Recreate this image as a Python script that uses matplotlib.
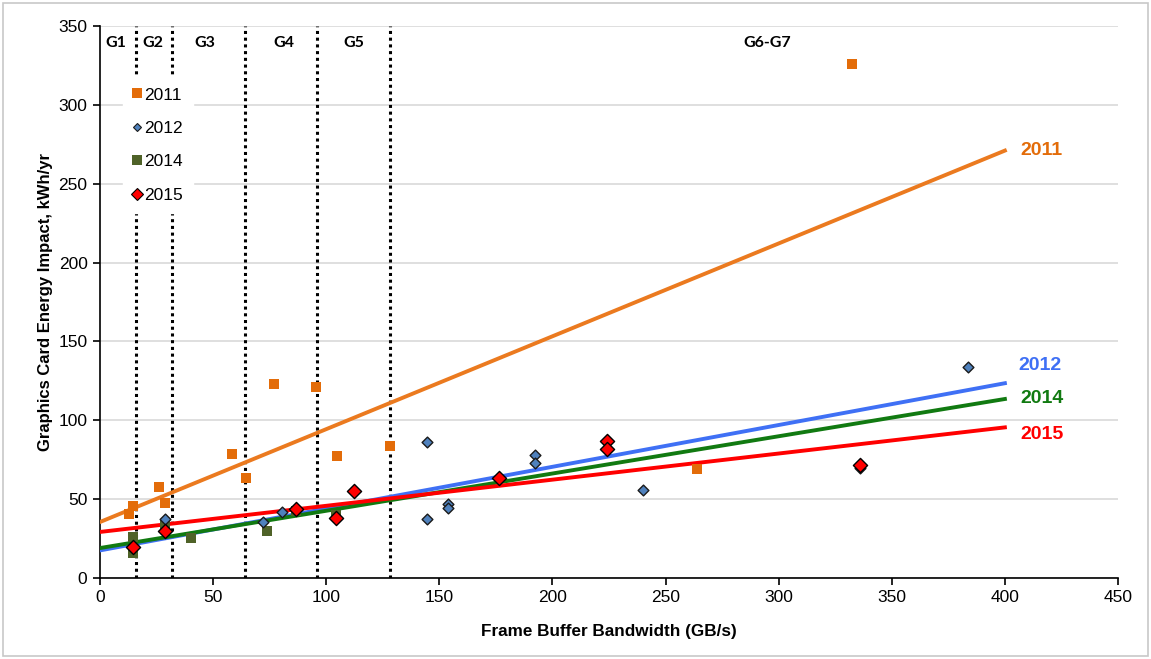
import numpy as np
import matplotlib
matplotlib.use("Agg")
import matplotlib.pyplot as plt
from matplotlib.lines import Line2D

plt.rcParams['font.family'] = ['Liberation Sans', 'DejaVu Sans']

# scatter data (bandwidth GB/s, kWh/yr)
x_2011 = [13, 14.5, 26, 28.7, 58.2, 64.4, 77, 95.5, 104.6, 128.2, 264, 332.3]
y_2011 = [40.6, 45.7, 57.9, 47.8, 78.4, 63.2, 123, 121, 77.4, 83.7, 69, 326]

x_2012 = [28.7, 72, 80.3, 144.4, 144.4, 153.7, 153.7, 192.4, 192.4, 240.2, 336, 383.7]
y_2012 = [37.2, 35.7, 41.7, 86, 37.4, 46.9, 44.2, 78, 72.7, 55.8, 70, 133.8]

x_2014 = [14.4, 14.4, 28.7, 40.2, 74, 86.6, 104.3]
y_2014 = [25.8, 15.6, 34.2, 25.6, 29.8, 42.7, 40]

x_2015 = [14.4, 28.7, 86.6, 104.3, 112.4, 176.2, 224.3, 224.3, 336]
y_2015 = [19.9, 29.8, 43.8, 38.2, 55.4, 63.5, 87, 81.8, 71.7]

# trend lines (values at x = 0 and x = 400)
trend_x = [0, 400]
trend_2011 = [35.5, 271]
trend_2012 = [17.5, 123.5]
trend_2014 = [19, 113.5]
trend_2015 = [29.2, 95.5]

# generation boundaries and labels
gen_bounds = [16, 32, 64, 96, 128]
gen_labels = ['G1', 'G2', 'G3', 'G4', 'G5', 'G6-G7']
gen_label_x = [7, 23.4, 46.4, 81.3, 112, 295]

c_orange = '#e36c09'
c_blue_pt = '#4f81bd'
c_green_pt = '#4f6228'
c_red = '#ff0000'

fig = plt.figure(figsize=(11.51, 6.59), dpi=100)
fig.patches.append(plt.Rectangle((0.003, 0.004), 0.994, 0.992, transform=fig.transFigure,
                                 fill=False, edgecolor='#c8c8c8', linewidth=1.2))
ax = fig.add_axes([100 / 1151, 81 / 659, 1018 / 1151, 552 / 659])

ax.set_xlim(0, 450)
ax.set_ylim(0, 350)
ax.set_xticks(np.arange(0, 451, 50))
ax.set_yticks(np.arange(0, 351, 50))
ax.yaxis.grid(True, color='#d9d9d9', linewidth=1.2)
ax.set_axisbelow(True)
for s in ['top', 'right']:
    ax.spines[s].set_visible(False)
for s in ['left', 'bottom']:
    ax.spines[s].set_linewidth(1.2)
ax.tick_params(axis='both', direction='out', length=5, width=1.2, labelsize=12.5, pad=4)

for b in gen_bounds:
    ax.axvline(b, color='black', linestyle=(0, (1, 1.2)), linewidth=2.2, zorder=2)

for lx, lt in zip(gen_label_x, gen_labels):
    ax.text(lx, 339, lt, ha='center', va='center', fontsize=11.5, fontweight='bold',
            family=['Lato', 'DejaVu Sans'])

# trend lines
ax.plot(trend_x, trend_2011, color='#eb7a1f', linewidth=2.8, zorder=3)
ax.plot(trend_x, trend_2012, color='#3f70f5', linewidth=2.8, zorder=3)
ax.plot(trend_x, trend_2014, color='#117a11', linewidth=2.8, zorder=3)
ax.plot(trend_x, trend_2015, color=c_red, linewidth=2.8, zorder=3)

# points
ax.scatter(x_2011, y_2011, marker='s', s=62, color=c_orange, linewidths=0, zorder=4)
ax.scatter(x_2014, y_2014, marker='s', s=58, color=c_green_pt, linewidths=0, zorder=4)
ax.scatter(x_2012, y_2012, marker='D', s=30, color=c_blue_pt, edgecolors='#1a1a1a',
           linewidths=1, zorder=5)
ax.scatter(x_2015, y_2015, marker='D', s=52, color=c_red, edgecolors='black',
           linewidths=1, zorder=6)

# end labels
ax.text(407, 271, '2011', color='#e36c09', fontsize=14, fontweight='bold', va='center')
ax.text(406, 134.5, '2012', color='#3f70f5', fontsize=14, fontweight='bold', va='center')
ax.text(407, 113.5, '2014', color='#117a11', fontsize=14, fontweight='bold', va='center')
ax.text(407, 91, '2015', color=c_red, fontsize=14, fontweight='bold', va='center')

handles = [
    Line2D([], [], linestyle='none', marker='s', markersize=7.5, color=c_orange, markeredgewidth=0),
    Line2D([], [], linestyle='none', marker='D', markersize=4.5, color=c_blue_pt,
           markeredgecolor='#1a1a1a', markeredgewidth=0.8),
    Line2D([], [], linestyle='none', marker='s', markersize=6.5, color=c_green_pt, markeredgewidth=0),
    Line2D([], [], linestyle='none', marker='D', markersize=6, color=c_red,
           markeredgecolor='black', markeredgewidth=0.8),
]
leg = ax.legend(handles, ['2011', '2012', '2014', '2015'], loc='upper left',
                bbox_to_anchor=(0.0226, 0.9076), frameon=True, fancybox=False,
                edgecolor='white', facecolor='white', framealpha=1, fontsize=12.5,
                handlelength=0.4, handletextpad=0.2, labelspacing=1.05,
                borderpad=0.6, borderaxespad=0)
leg.set_zorder(10)

ax.set_xlabel('Frame Buffer Bandwidth (GB/s)', fontsize=12.3, fontweight='bold', labelpad=13)
ax.set_ylabel('Graphics Card Energy Impact, kWh/yr', fontsize=12, fontweight='bold', labelpad=4)

fig.savefig('out.png', dpi=100)
